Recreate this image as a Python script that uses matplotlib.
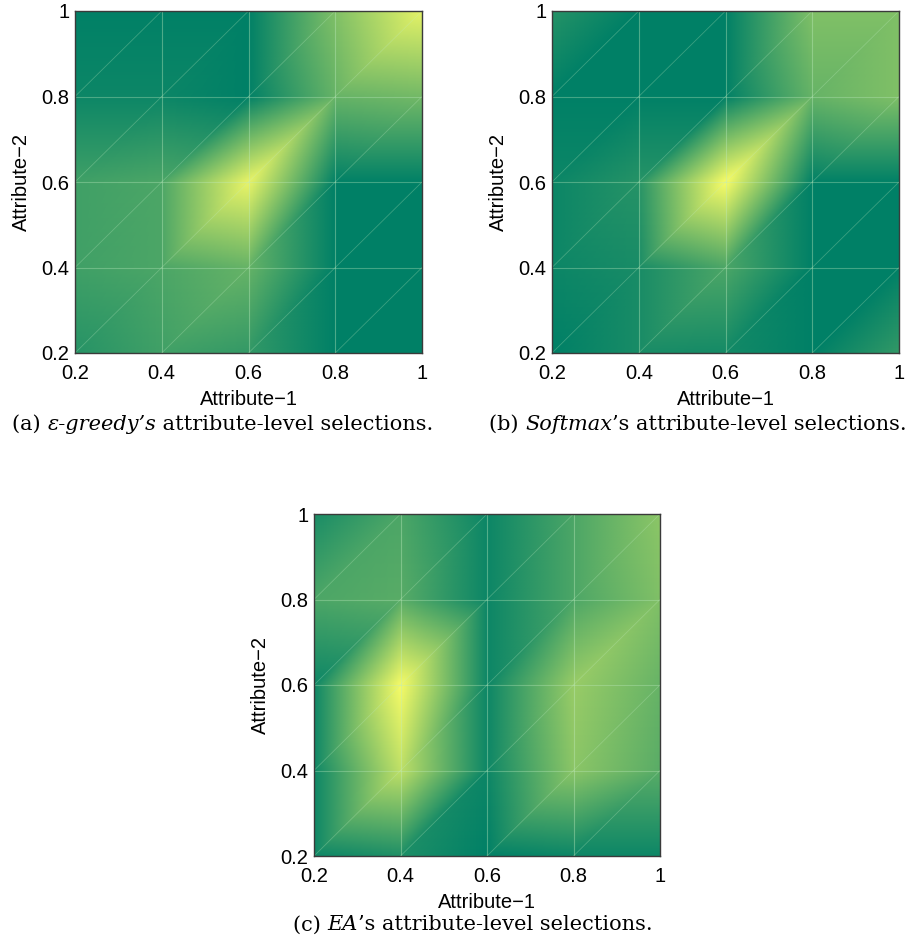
import numpy as np
import matplotlib
matplotlib.use("Agg")
import matplotlib.pyplot as plt
import matplotlib.tri as mtri

# ---------------- data ----------------
levels = [0.2, 0.4, 0.6, 0.8, 1.0]          # attribute levels (both axes)
tick_labels = ["0.2", "0.4", "0.6", "0.8", "1"]

# selection intensity at each grid node; rows: Attribute-2 = 0.2 ... 1.0,
# columns: Attribute-1 = 0.2 ... 1.0
z_greedy = [
    [0.15, 0.25, 0.20, 0.00, 0.00],
    [0.25, 0.30, 0.40, 0.00, 0.00],
    [0.25, 0.30, 0.92, 0.00, 0.00],
    [0.05, 0.05, 0.00, 0.40, 0.45],
    [0.00, 0.00, 0.00, 0.50, 0.90],
]
z_softmax = [
    [0.00, 0.10, 0.08, 0.00, 0.20],
    [0.05, 0.10, 0.30, 0.00, 0.00],
    [0.05, 0.15, 0.98, 0.00, 0.00],
    [0.00, 0.00, 0.00, 0.40, 0.50],
    [0.15, 0.00, 0.00, 0.50, 0.50],
]
z_ea = [
    [0.05, 0.12, 0.00, 0.05, 0.05],
    [0.05, 0.75, 0.05, 0.55, 0.35],
    [0.05, 0.97, 0.05, 0.60, 0.40],
    [0.30, 0.35, 0.05, 0.30, 0.50],
    [0.10, 0.30, 0.05, 0.30, 0.55],
]

captions = [
    [("(a) ", "normal"), ("\u03b5-greedy\u2019s", "italic"), (" attribute-level selections.", "normal")],
    [("(b) ", "normal"), ("Softmax", "italic"), ("\u2019s attribute-level selections.", "normal")],
    [("(c) ", "normal"), ("EA", "italic"), ("\u2019s attribute-level selections.", "normal")],
]

# ---------------- figure ----------------
W, H = 921, 950
fig = plt.figure(figsize=(W / 100, H / 100), dpi=100)
sans = ["Liberation Sans", "DejaVu Sans"]
serif = ["DejaVu Serif", "Liberation Serif"]

# axes boxes in pixels: (left, top, right, bottom)
boxes = [(75, 11, 422, 353), (552, 11, 899, 353), (314, 514, 660, 856)]
data = [z_greedy, z_softmax, z_ea]

lv = np.array(levels)
X, Y = np.meshgrid(lv, lv)
n = len(levels)
tris = []
for j in range(n - 1):
    for i in range(n - 1):
        a = j * n + i
        b = j * n + i + 1
        c = (j + 1) * n + i + 1
        d = (j + 1) * n + i
        tris.append([a, b, c])
        tris.append([a, c, d])
triang = mtri.Triangulation(X.ravel(), Y.ravel(), np.array(tris))

axes = []
for (l, t, r, b), z in zip(boxes, data):
    ax = fig.add_axes([l / W, 1 - b / H, (r - l) / W, (b - t) / H])
    Z = np.array(z, dtype=float)
    ax.tripcolor(triang, Z.ravel(), shading="gouraud", cmap="summer",
                 vmin=0, vmax=1)
    # faint mesh edges
    mesh_c = (0.75, 0.92, 0.75)
    for v in levels[1:-1]:
        ax.plot([levels[0], levels[-1]], [v, v], color=mesh_c, lw=0.8, alpha=0.35)
        ax.plot([v, v], [levels[0], levels[-1]], color=mesh_c, lw=0.8, alpha=0.4)
    for j in range(n - 1):
        for i in range(n - 1):
            ax.plot([levels[i], levels[i + 1]], [levels[j], levels[j + 1]],
                    color=mesh_c, lw=0.6, alpha=0.3)
    ax.set_xlim(levels[0], levels[-1])
    ax.set_ylim(levels[0], levels[-1])
    ax.set_xticks(levels)
    ax.set_yticks(levels)
    ax.set_xticklabels(tick_labels, fontfamily=sans, fontsize=14.5)
    ax.set_yticklabels(tick_labels, fontfamily=sans, fontsize=14.5)
    ax.tick_params(axis="x", length=0, pad=8)
    ax.tick_params(axis="y", length=0, pad=4)
    ax.set_xlabel("Attribute\u22121", fontfamily=sans, fontsize=14.5, labelpad=5)
    ax.set_ylabel("Attribute\u22122", fontfamily=sans, fontsize=14.5, labelpad=7.5)
    for s in ax.spines.values():
        s.set_color("#3a3a3a")
        s.set_linewidth(1.0)
    axes.append(ax)

# ---------------- captions with mixed styles ----------------
fig.canvas.draw()
renderer = fig.canvas.get_renderer()
cap_pos = [(223, 424), (698, 424), (473, 925)]
for (cx, cy), parts in zip(cap_pos, captions):
    objs = []
    widths = []
    for txt, style in parts:
        o = fig.text(0, 1 - cy / H, txt, fontfamily=serif, fontstyle=style,
                     fontsize=15, va="center", ha="left")
        bb = o.get_window_extent(renderer)
        objs.append(o)
        widths.append(bb.width)
    total = sum(widths)
    x = cx - total / 2
    for o, w in zip(objs, widths):
        o.set_x(x / W)
        x += w

fig.savefig("out.png", dpi=100)
